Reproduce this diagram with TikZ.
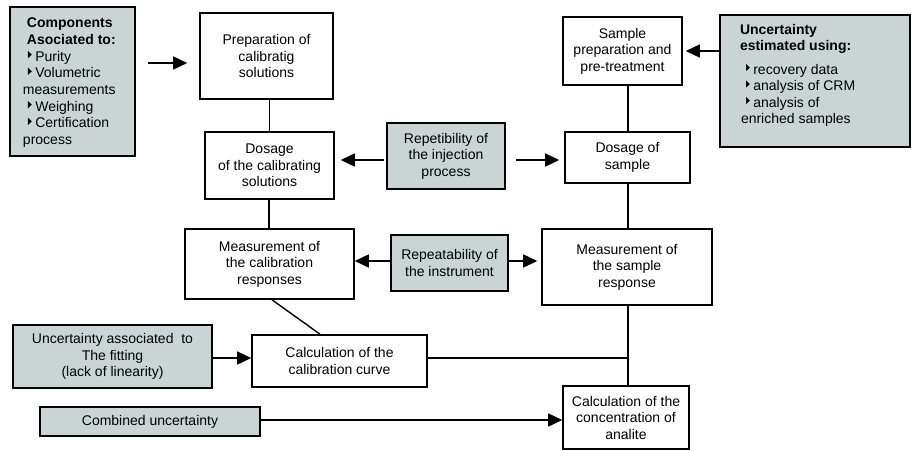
\documentclass[tikz,border=0pt]{standalone}
\usepackage{fontspec}
\setmainfont{Liberation Sans}
\usetikzlibrary{arrows.meta}
\definecolor{boxgray}{RGB}{203,212,212}
\newcommand\tribul{\tikz[baseline=0pt]\fill (0pt,3pt)--(0pt,10.2pt)--(3.8pt,6.6pt)--cycle;\hspace{3.5pt}}
\begin{document}
\begin{tikzpicture}[x=1pt,y=-1pt,
  every node/.style={font=\fontsize{14}{16.5}\selectfont},
  box/.style={draw, line width=1.6pt, align=center, inner sep=0pt, rectangle},
  gbox/.style={box, fill=boxgray},
  pbox/.style={draw, line width=1.6pt, inner sep=0pt, rectangle, fill=boxgray},
  link/.style={line width=1.6pt},
  arr/.style={line width=1.6pt, -{Triangle[length=14pt,width=13pt]}},
]
\useasboundingbox (0,0) rectangle (912,450);

\node[pbox, minimum width=125pt, minimum height=149pt] (comp) at (72.5,81.5)
  {\parbox[c][149pt][t]{99pt}{\fontsize{14}{16.7}\selectfont\raggedright\vspace*{11pt}%
   \hspace*{4pt}\textbf{Components}\\
   \hspace*{4pt}\textbf{Asociated to:}\\
   \hspace*{5pt}\tribul Purity\\
   \hspace*{5pt}\tribul Volumetric\\
   measurements\\
   \hspace*{5pt}\tribul Weighing\\
   \hspace*{5pt}\tribul Certification\\
   process}};
\node[box, minimum width=133pt, minimum height=86pt] (prep) at (266.5,56)
  {Preparation of\\calibratig\\solutions};
\node[box, minimum width=129pt, minimum height=67pt] (dosc) at (269.5,165.5)
  {Dosage\\of the calibrating\\solutions};
\node[gbox, minimum width=118pt, minimum height=66pt] (rinj) at (446,156)
  {Repetibility of\\the injection\\process};
\node[box, minimum width=125pt, minimum height=51pt] (doss) at (627.5,157.5)
  {Dosage of\\sample};
\node[box, minimum width=119pt, minimum height=68pt] (sprep) at (622.5,51)
  {Sample\\preparation and\\pre-treatment};
\node[pbox, minimum width=190pt, minimum height=132pt] (uest) at (815,81)
  {\parbox[c][132pt][t]{150pt}{\fontsize{14}{16.5}\selectfont\raggedright\vspace*{9pt}%
   \textbf{Uncertainty}\\
   \textbf{estimated using:}\\[7pt]
   \hspace*{6pt}\tribul recovery data\\
   \hspace*{6pt}\tribul analysis of CRM\\
   \hspace*{6pt}\tribul analysis of\\
   \hspace*{1pt}enriched samples}};
\node[box, minimum width=169pt, minimum height=70pt] (mcal) at (269.5,264)
  {Measurement of\\the calibration\\responses};
\node[gbox, minimum width=117pt, minimum height=56pt] (rins) at (449.5,263)
  {Repeatability of\\the instrument};
\node[box, minimum width=170pt, minimum height=76pt] (msam) at (627,267)
  {Measurement of\\the sample\\response};
\node[gbox, minimum width=199pt, minimum height=63pt] (fit) at (112.5,356.5)
  {Uncertainty associated\ \ to\\The fitting\\(lack of linearity)};
\node[box, minimum width=175pt, minimum height=52pt] (curve) at (339.5,361)
  {Calculation of the\\calibration curve};
\node[gbox, minimum width=220pt, minimum height=29pt] (comb) at (150,421.5)
  {Combined uncertainty};
\node[box, minimum width=126pt, minimum height=63pt] (conc) at (626,417.5)
  {Calculation of the\\concentration of\\analite};
\coordinate (junc) at (628,358);

% connectors
\draw[arr, shorten <=12pt, shorten >=12pt] (comp.east |- 0,63) -- (prep.west |- 0,63);
\draw[link] (dosc.north) -- (dosc.north |- prep.south);
\draw[arr, shorten <=2pt, shorten >=6pt] (rinj.west |- 0,160) -- (dosc.east |- 0,160);
\draw[arr, shorten <=10pt, shorten >=5pt] (rinj.east |- 0,160) -- (doss.west |- 0,160);
\draw[link] (doss.north -| junc) -- (sprep.south -| junc);
\draw[arr, shorten >=3pt] (uest.west |- 0,51) -- (sprep.east |- 0,51);
\draw[link] (dosc.south -| 269,0) -- (mcal.north -| 269,0);
\draw[arr] (rins.west |- 0,261) -- (mcal.east |- 0,261);
\draw[arr, shorten >=4pt] (rins.east |- 0,261) -- (msam.west |- 0,261);
\draw[link] (doss.south -| junc) -- (msam.north -| junc);
\draw[arr] (fit.east |- 0,358) -- (curve.west |- 0,358);
\draw[line width=1.4pt] (mcal.south -| 272,0) -- (curve.north -| 320,0);
\draw[link] (msam.south -| junc) -- (conc.north -| junc);
\draw[link] (curve.east |- junc) -- (junc);
\draw[arr] (comb.east |- 0,420) -- (conc.west |- 0,420);
\end{tikzpicture}
\end{document}
